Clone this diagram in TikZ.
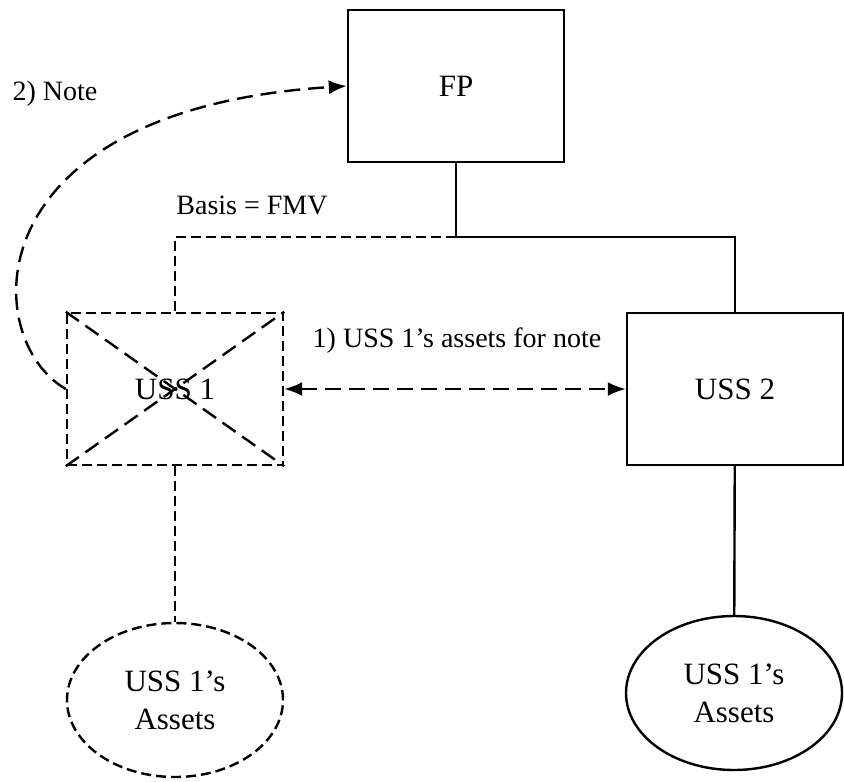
\documentclass[tikz,border=0pt]{standalone}
\usepackage{fontspec}
\setmainfont{Liberation Serif}
\usetikzlibrary{shapes.geometric,arrows.meta}
\begin{document}
\begin{tikzpicture}[
	x=0.5pt,
	y=-0.5pt,
	line width=1.2pt,
	>={Latex[length=9pt,width=7pt]},
	font=\fontsize{14}{18.5}\selectfont,
	entity/.style={draw, minimum width=108pt, minimum height=76pt, inner sep=0pt, font=\fontsize{15.5}{19}\selectfont},
	assets/.style={draw, ellipse, minimum width=108pt, minimum height=77pt, inner sep=0pt, align=center, font=\fontsize{15.5}{19}\selectfont},
	shortdash/.style={dash pattern=on 5pt off 2.5pt},
	longdash/.style={dash pattern=on 8pt off 4pt},
	]
\useasboundingbox (0,0) rectangle (844,781);
\node[entity] (fp) at (456,86) {FP};
\node[entity, shortdash] (uss1) at (175,389) {USS 1};
\node[entity] (uss2) at (735,389) {USS 2};
\node[assets, shortdash] (a1) at (175,700) {USS 1’s\\Assets};
\node[assets] (a2) at (734,693) {USS 1’s\\Assets};
\node (note) at (55,94) {2) Note};
\node (basis) at (252,205) {Basis = FMV};
\node (swap) at (457,341) {1) USS 1’s assets for note};
\foreach \a/\b in {north west/south east, south west/north east}
	\draw[longdash] (uss1.\a) -- (uss1.\b);
\coordinate (join) at (456,237);
\draw (fp) -- (join) -| (uss2);
\draw[shortdash] (join) -| (uss1);
\draw[shortdash] (uss1) -- (a1);
\draw (uss2) -- (a2);
\draw[longdash, <->] (uss1) -- (uss2);
\draw[longdash, ->] (uss1.west) .. controls (-20,340) and (-30,110) .. (fp.west);
\end{tikzpicture}
\end{document}
